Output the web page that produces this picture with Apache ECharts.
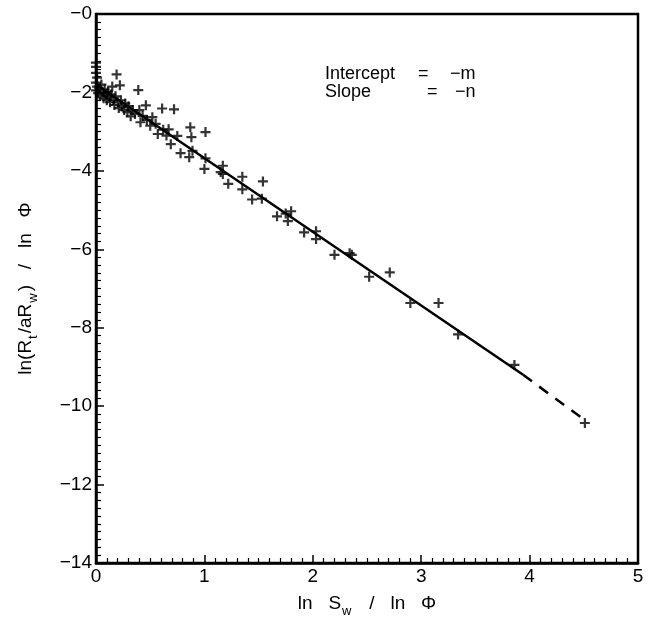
<!DOCTYPE html>
<html><head><meta charset="utf-8">
<script src="https://cdn.jsdelivr.net/npm/echarts@6/dist/echarts.min.js"></script>
<style>html,body{margin:0;padding:0;background:#fff}#c{width:655px;height:623px}</style>
</head><body><div id="c"></div>
<script>
// scatter data: ln Sw / ln phi  (x)  vs  ln(Rt/aRw) / ln phi  (y)
var ptsX = [0,0,0,0.01,0,0.01,0,0.02,0.03,0.04,0.05,0.06,0.07,0.08,0.09,0.1,0.11,0.12,0.13,0.14,0.15,0.16,0.17,0.18,0.19,0.2,0.21,0.22,0.23,0.24,0.26,0.27,0.29,0.3,0.32,0.34,0.36,0.39,0.4,0.41,0.43,0.46,0.47,0.5,0.52,0.55,0.57,0.61,0.62,0.65,0.67,0.69,0.72,0.75,0.78,0.86,0.87,0.88,0.89,1.0,1.01,1.01,1.15,1.17,1.17,1.22,1.35,1.35,1.54,1.44,1.53,1.67,1.77,1.8,1.75,1.92,2.03,2.03,2.2,2.34,2.36,2.52,2.71,2.9,3.16,3.34,3.86,4.51];
var ptsY = [-1.24,-1.35,-1.5,-1.62,-1.75,-1.85,-1.95,-2.02,-1.9,-2.08,-1.8,-2.0,-2.15,-1.92,-2.05,-2.2,-1.98,-2.1,-2.25,-2.05,-1.85,-2.2,-2.32,-2.1,-1.54,-2.25,-2.4,-1.82,-2.2,-2.35,-2.45,-2.28,-2.5,-2.35,-2.61,-2.45,-2.55,-1.94,-2.45,-2.76,-2.6,-2.33,-2.7,-2.85,-2.63,-2.8,-3.06,-2.41,-2.95,-3.1,-2.94,-3.32,-2.43,-3.11,-3.55,-3.65,-2.89,-3.14,-3.49,-3.95,-3.01,-3.68,-4.03,-3.87,-4.08,-4.33,-4.15,-4.47,-4.27,-4.73,-4.71,-5.16,-5.28,-5.03,-5.09,-5.57,-5.54,-5.74,-6.14,-6.1,-6.14,-6.7,-6.59,-7.37,-7.37,-8.17,-8.95,-10.43];
// regression line: solid over the data, dashed extrapolation to the last point
var fitX = [0, 3.94];
var fitY = [-1.8, -9.2];
var extX = [3.94, 4.51];
var extY = [-9.2, -10.36];
var xTicks = [0,1,2,3,4,5];
var yTicks = [0,-2,-4,-6,-8,-10,-12,-14];

function pairs(a,b){return a.map(function(v,i){return [v,b[i]];});}
var plusPath = 'path://M-1,-0.22L-0.22,-0.22L-0.22,-1L0.22,-1L0.22,-0.22L1,-0.22L1,0.22L0.22,0.22L0.22,1L-0.22,1L-0.22,0.22L-1,0.22Z';
var font = 'Liberation Sans, Arial, Helvetica, sans-serif';
var chart = echarts.init(document.getElementById('c'), null, {renderer:'canvas'});
var rich = {
  sub:{fontSize:13,verticalAlign:'bottom',padding:[0,2,0,1],color:'#000',fontFamily:font,lineHeight:28},
  n:{fontSize:19,color:'#000',fontFamily:font,lineHeight:28}
};
chart.setOption({
  animation:false,
  backgroundColor:'#fff',
  grid:{left:96,right:17,top:14,bottom:56,show:true,borderColor:'#000',borderWidth:2.5},
  xAxis:{type:'value',min:0,max:5,interval:1,
    name:'{n|ln   S}{sub|w}{n|   /   ln   \u03a6}',nameLocation:'middle',nameGap:27,
    nameTextStyle:{color:'#000',fontFamily:font,fontSize:19,rich:rich},
    axisLine:{show:true,onZero:false,lineStyle:{color:'#000',width:2.5}},
    axisTick:{show:true,inside:true,length:8,lineStyle:{color:'#000',width:1.5}},
    minorTick:{show:true,splitNumber:10,length:5,lineStyle:{color:'#000',width:1.2}},
    splitLine:{show:false},
    axisLabel:{color:'#000',fontFamily:font,fontSize:19,margin:4,formatter:function(v){return xTicks.indexOf(v)>=0?String(v):'';}}},
  yAxis:{type:'value',min:-14,max:0,interval:2,
    name:'{n|ln(R}{sub|t}{n|/aR}{sub|w}{n|)   /   ln   \u03a6}',nameLocation:'middle',nameGap:56,
    nameTextStyle:{color:'#000',fontFamily:font,fontSize:19,rich:rich},
    axisLine:{show:true,onZero:false,lineStyle:{color:'#000',width:2.5}},
    axisTick:{show:true,inside:true,length:8,lineStyle:{color:'#000',width:1.5}},
    minorTick:{show:true,splitNumber:10,length:5,lineStyle:{color:'#000',width:1.2}},
    splitLine:{show:false},
    axisLabel:{color:'#000',fontFamily:font,fontSize:19,margin:4,formatter:function(v){return yTicks.indexOf(v)>=0?(v===0?'\u22120':String(v).replace('-','\u2212')):'';}}},
  series:[
    {type:'scatter',data:pairs(ptsX,ptsY),symbol:plusPath,symbolSize:10,itemStyle:{color:'#000'},z:3},
    {type:'line',data:pairs(fitX,fitY),showSymbol:false,lineStyle:{color:'#000',width:2.5},z:2},
    {type:'line',data:pairs(extX,extY),showSymbol:false,lineStyle:{color:'#000',width:2.5,type:[11,9]},z:2}
  ],
  graphic:[
    {type:'text',left:325,top:65,style:{text:'Intercept',font:'18px '+font,fill:'#000'}},
    {type:'text',left:418,top:65,style:{text:'=',font:'18px '+font,fill:'#000'}},
    {type:'text',left:450,top:65,style:{text:'\u2212m',font:'18px '+font,fill:'#000'}},
    {type:'text',left:325,top:83,style:{text:'Slope',font:'18px '+font,fill:'#000'}},
    {type:'text',left:427,top:83,style:{text:'=',font:'18px '+font,fill:'#000'}},
    {type:'text',left:455,top:83,style:{text:'\u2212n',font:'18px '+font,fill:'#000'}}
  ]
});
</script></body></html>
